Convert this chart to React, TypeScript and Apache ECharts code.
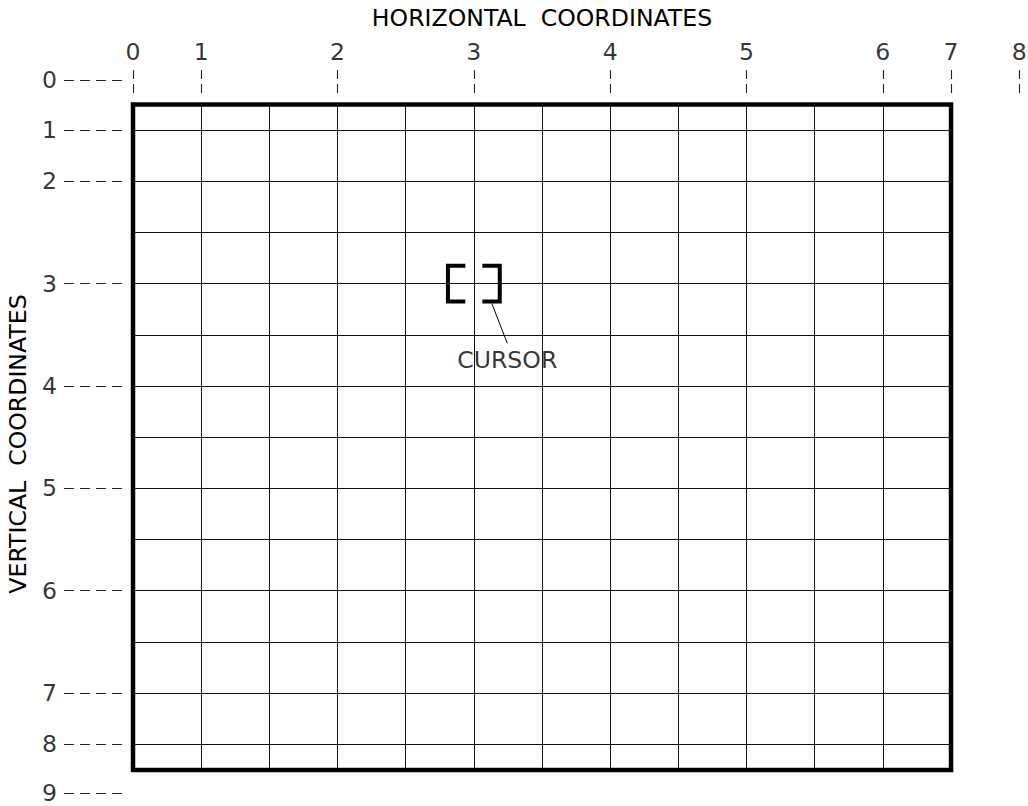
import React, { useEffect, useRef } from "react";
import * as echarts from "echarts";

// Drawing coordinates: x in grid columns, y in grid rows (downwards)
const columnLines = [0, 1, 2, 3, 4, 5, 6, 7, 8, 9, 10, 11, 12];
const rowLines = [0, 1, 2, 3, 4, 5, 6, 7, 8, 9, 10, 11, 12];
const frameX = [0, 12];
const frameY = [-0.5, 12.5];

const xTickLabels = ["0", "1", "2", "3", "4", "5", "6", "7", "8"];
const xTickPositions = [0, 1, 3, 5, 7, 9, 11, 12, 13];
const yTickLabels = ["0", "1", "2", "3", "4", "5", "6", "7", "8", "9"];
const yTickPositions = [-0.97, 0, 1, 3, 5, 7, 9, 11, 12, 12.95];

const cursorPos = [5, 3];
const cursorLabel = "CURSOR";
const xTitle = "HORIZONTAL  COORDINATES";
const yTitle = "VERTICAL  COORDINATES";

const FONT = "DejaVu Sans";
const FS = 23.6;

export default function App() {
  const ref = useRef<HTMLDivElement>(null);
  useEffect(() => {
    if (!ref.current) return;
    const chart = echarts.init(ref.current, null, { renderer: "svg" });
    const W = 1028, H = 806;
    const x0 = 133, colW = 68.17, y0 = 130, rowH = 51.19;
    const px = (p: number) => (p - x0) / colW;
    const py = (p: number) => (p - y0) / rowH;

    const [fx0, fx1] = frameX;
    const [fy0, fy1] = frameY;

    const verticals = columnLines
      .filter((c) => c > fx0 && c < fx1)
      .map((c) => ({ coords: [[c, fy0], [c, fy1]] }));
    const horizontals = rowLines.map((r) => ({ coords: [[fx0, r], [fx1, r]] }));

    const xTickTop = py(70), xTickBot = py(93);
    const yTickL = px(64), yTickR = px(123);

    const [cx, cy] = cursorPos;
    const bw = 0.38, bi = 0.125, bh = 0.35;

    const labelStyle = {
      show: true,
      position: "inside",
      formatter: "{b}",
      fontFamily: FONT,
      fontSize: FS,
      lineHeight: 18,
      color: "#000",
    };

    const option: any = {
      animation: false,
      grid: { left: 0, right: 0, top: 0, bottom: 0 },
      xAxis: { type: "value", min: px(0), max: px(W), show: false },
      yAxis: { type: "value", min: py(0), max: py(H), inverse: true, show: false },
      graphic: [
        {
          type: "text",
          x: 542,
          y: 18,
          style: {
            text: xTitle,
            fontFamily: FONT,
            fontSize: FS,
            fill: "#000",
            textAlign: "center",
            textVerticalAlign: "middle",
          },
        },
        {
          type: "text",
          x: 18,
          y: 444,
          rotation: Math.PI / 2,
          style: {
            text: yTitle,
            fontFamily: FONT,
            fontSize: FS,
            fill: "#000",
            textAlign: "center",
            textVerticalAlign: "middle",
          },
        },
      ],
      series: [
        {
          type: "lines",
          coordinateSystem: "cartesian2d",
          silent: true,
          lineStyle: { color: "#111", width: 1, opacity: 1 },
          data: [...verticals, ...horizontals],
        },
        {
          type: "lines",
          coordinateSystem: "cartesian2d",
          silent: true,
          lineStyle: { color: "#222", width: 1.1, type: [9, 5], opacity: 1 },
          data: xTickPositions.map((x) => ({ coords: [[x, xTickTop], [x, xTickBot]] })),
        },
        {
          type: "lines",
          coordinateSystem: "cartesian2d",
          silent: true,
          lineStyle: { color: "#222", width: 1.1, type: [10, 6], opacity: 1 },
          data: yTickPositions.map((y) => ({ coords: [[yTickL, y], [yTickR, y]] })),
        },
        {
          type: "line",
          silent: true,
          symbol: "none",
          lineStyle: { color: "#000", width: 4.5, join: "miter", cap: "square" },
          data: [[fx0, fy0], [fx1, fy0], [fx1, fy1], [fx0, fy1], [fx0, fy0]],
        },
        {
          type: "lines",
          coordinateSystem: "cartesian2d",
          polyline: true,
          silent: true,
          lineStyle: { color: "#000", width: 4, opacity: 1, join: "miter", cap: "butt" },
          data: [
            { coords: [[cx - bi, cy - bh], [cx - bw, cy - bh], [cx - bw, cy + bh], [cx - bi, cy + bh]] },
            { coords: [[cx + bi, cy - bh], [cx + bw, cy - bh], [cx + bw, cy + bh], [cx + bi, cy + bh]] },
          ],
        },
        {
          type: "lines",
          coordinateSystem: "cartesian2d",
          silent: true,
          lineStyle: { color: "#000", width: 1, opacity: 1 },
          data: [{ coords: [[cx + 0.262, cy + 0.385], [cx + 0.491, cy + 1.167]] }],
        },
        {
          type: "scatter",
          silent: true,
          symbolSize: 0,
          itemStyle: { color: "transparent" },
          label: labelStyle,
          data: [
            ...xTickPositions.map((x, i) => ({ name: xTickLabels[i], value: [x, py(52)] })),
            { name: cursorLabel, value: [cx + 0.49, cy + 1.49] },
          ],
        },
        {
          type: "scatter",
          silent: true,
          symbolSize: 0,
          itemStyle: { color: "transparent" },
          label: { ...labelStyle, align: "right" },
          data: yTickPositions.map((y, i) => ({ name: yTickLabels[i], value: [px(57), y] })),
        },
      ],
    };
    chart.setOption(option);
    return () => chart.dispose();
  }, []);
  return (
    <div
      ref={ref}
      style={{ position: "fixed", left: 0, top: 0, width: 1028, height: 806, background: "#fff" }}
    />
  );
}
